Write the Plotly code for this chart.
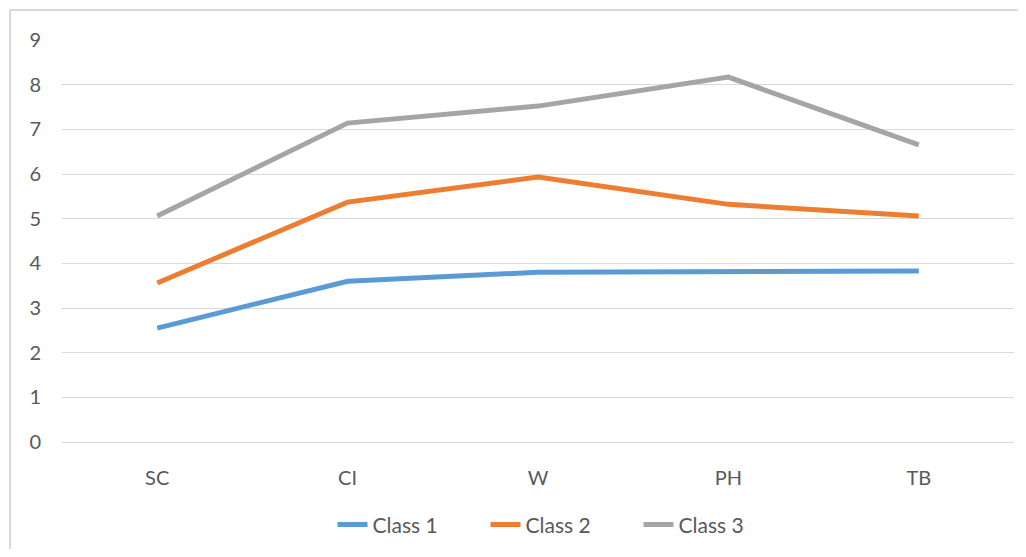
import plotly.graph_objects as go

categories = ["SC", "CI", "W", "PH", "TB"]
class1 = [2.55, 3.60, 3.80, 3.82, 3.83]
class2 = [3.56, 5.37, 5.93, 5.32, 5.06]
class3 = [5.06, 7.14, 7.52, 8.17, 6.65]
series_names = ["Class 1", "Class 2", "Class 3"]
colors = ["#5B9BD5", "#ED7D31", "#A5A5A5"]
y_ticks = list(range(0, 10))

fig = go.Figure()
for name, vals, col in zip(series_names, [class1, class2, class3], colors):
    fig.add_trace(go.Scatter(x=categories, y=vals, mode="lines", name=name,
                             line=dict(color=col, width=5)))

font = dict(family="Lato, Calibri, 'Open Sans', sans-serif", size=20, color="#595959")
legend_font = dict(family="Lato, Calibri, 'Open Sans', sans-serif", size=21, color="#595959")
border = dict(color="#D9D9D9", width=2)
# page has an 8px body margin, so the figure is drawn 8px in from the top-left
fig.update_layout(
    width=1010, height=541,
    margin=dict(l=54, r=4, t=32, b=107),
    paper_bgcolor="white", plot_bgcolor="white",
    font=font,
    showlegend=True,
    legend=dict(orientation="h", x=0.5 + 24 / 952, xanchor="center", y=-0.206, yanchor="middle",
                font=legend_font, entrywidth=108, entrywidthmode="pixels", traceorder="normal"),
    xaxis=dict(type="category", range=[-0.5, 4.5], showgrid=False, zeroline=False,
               showline=True, linecolor="#D9D9D9", linewidth=1.3, ticks="",
               ticklabelstandoff=18, tickfont=font),
    yaxis=dict(range=[0, 9], tickvals=y_ticks, showgrid=True, gridcolor="#D9D9D9",
               gridwidth=1.3, zeroline=False, showline=False, ticks="",
               ticklabelstandoff=20, tickfont=font),
    shapes=[
        dict(type="line", xref="paper", yref="paper",
             x0=(2 - 54) / 952, x1=(1020 - 54) / 952, y0=(434 - 2) / 402, y1=(434 - 2) / 402,
             line=border, layer="below"),
        dict(type="line", xref="paper", yref="paper",
             x0=(2 - 54) / 952, x1=(2 - 54) / 952, y0=(434 - 552) / 402, y1=(434 - 2) / 402,
             line=border, layer="below"),
    ],
)

fig.write_html("out.html")
